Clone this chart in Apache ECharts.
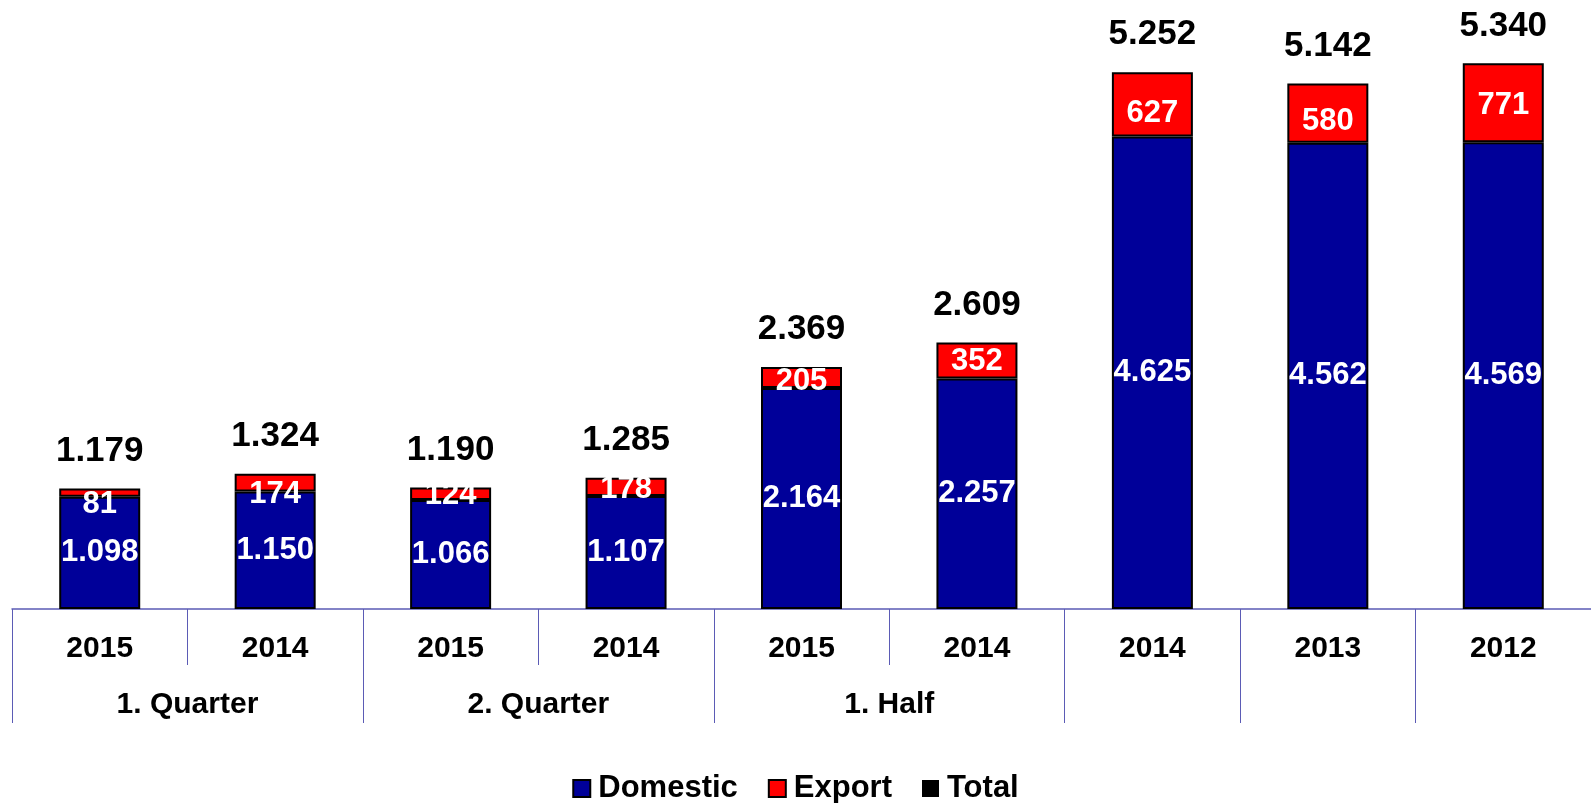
<!DOCTYPE html>
<html>
<head>
<meta charset="utf-8">
<title>Domestic / Export</title>
<script src="https://cdn.jsdelivr.net/npm/echarts@6/dist/echarts.min.js"></script>
<style>
  html, body { margin: 0; padding: 0; background: #fff; }
  #chart { width: 1591px; height: 803px; }
</style>
</head>
<body>
<div id="chart"></div>
<script>
// values
const years = ['2015', '2014', '2015', '2014', '2015', '2014', '2014', '2013', '2012'];
const groupLabels = ['1. Quarter', '2. Quarter', '1. Half', '', '', ''];
const groupSpans = [2, 2, 2, 1, 1, 1];
const domestic = [1098, 1150, 1066, 1107, 2164, 2257, 4625, 4562, 4569];
const exportVals = [81, 174, 124, 178, 205, 352, 627, 580, 771];
const total = [1179, 1324, 1190, 1285, 2369, 2609, 5252, 5142, 5340];

// small manual nudges of the export labels, like in the original
const exportLabelDy = [12, 12, 2, 3, 4, 1, 9, 8, 3];

const FONT = "'Liberation Sans', Arial, sans-serif";
const AXIS_COLOR = '#5b5bb5';

function fmt(v) {
  return String(v).replace(/\B(?=(\d{3})+(?!\d))/g, '.');
}

// group axis: points on every half category, group name on the middle of its span
const groupAxisData = [];
const groupTickAt = {};
const groupLabelAt = {};
let pos = 0;
groupTickAt[0] = true;
groupSpans.forEach((span, i) => {
  groupLabelAt[pos + span] = groupLabels[i];
  pos += span * 2;
  groupTickAt[pos] = true;
});
for (let k = 0; k <= pos; k++) {
  groupAxisData.push(groupLabelAt[k] || '');
}

const chart = echarts.init(document.getElementById('chart'));

const barBorder = { borderColor: '#000', borderWidth: 2 };

chart.setOption({
  animation: false,
  backgroundColor: '#fff',
  textStyle: { fontFamily: FONT },
  grid: { left: 12, right: 0, top: 47, bottom: 194 },
  legend: {
    top: 768,
    left: 'center',
    icon: 'rect',
    itemWidth: 17,
    itemHeight: 17,
    itemGap: 30,
    textStyle: {
      fontSize: 31,
      fontWeight: 'bold',
      color: '#000',
      fontFamily: FONT,
      padding: [0, 0, 0, 3]
    },
    data: [
      { name: 'Domestic' },
      { name: 'Export' },
      { name: 'Total', itemStyle: { color: '#000', borderWidth: 0 } }
    ]
  },
  xAxis: [
    {
      type: 'category',
      data: years,
      position: 'bottom',
      axisLine: { show: true, lineStyle: { color: AXIS_COLOR, width: 1.5 } },
      axisTick: { show: true, interval: 0, length: 56, lineStyle: { color: AXIS_COLOR, width: 1 } },
      axisLabel: {
        interval: 0,
        margin: 25,
        fontSize: 30,
        fontWeight: 'bold',
        color: '#000',
        fontFamily: FONT
      }
    },
    {
      type: 'category',
      data: groupAxisData,
      position: 'bottom',
      boundaryGap: false,
      axisLine: { show: false },
      axisTick: {
        show: true,
        length: 114,
        interval: (i) => !!groupTickAt[i],
        lineStyle: { color: AXIS_COLOR, width: 1 }
      },
      axisLabel: {
        interval: (i, v) => v !== '',
        margin: 81,
        fontSize: 30,
        fontWeight: 'bold',
        color: '#000',
        fontFamily: FONT
      }
    }
  ],
  yAxis: { type: 'value', min: 0, max: 5500, show: false },
  series: [
    {
      name: 'Domestic',
      type: 'bar',
      stack: 'sum',
      barWidth: 81,
      data: domestic,
      itemStyle: Object.assign({ color: '#000099' }, barBorder),
      label: {
        show: true,
        position: 'inside',
        formatter: (p) => fmt(p.value),
        color: '#fff',
        fontSize: 31,
        fontWeight: 'bold',
        fontFamily: FONT
      }
    },
    {
      name: 'Export',
      type: 'bar',
      stack: 'sum',
      barWidth: 81,
      data: exportVals.map((v, i) => ({
        value: v,
        label: { offset: [0, exportLabelDy[i]] }
      })),
      itemStyle: Object.assign({ color: '#ff0000' }, barBorder),
      label: {
        show: true,
        position: 'inside',
        formatter: (p) => fmt(p.value),
        color: '#fff',
        fontSize: 31,
        fontWeight: 'bold',
        fontFamily: FONT
      }
    },
    {
      name: 'Total',
      type: 'bar',
      barWidth: 81,
      barGap: '-100%',
      z: 1,
      data: total,
      itemStyle: { color: 'rgba(0,0,0,0)', borderWidth: 0 },
      label: {
        show: true,
        position: 'top',
        distance: 20,
        formatter: (p) => fmt(p.value),
        color: '#000',
        fontSize: 35,
        fontWeight: 'bold',
        fontFamily: FONT
      }
    }
  ]
});

window.addEventListener('resize', () => chart.resize());
</script>
</body>
</html>
